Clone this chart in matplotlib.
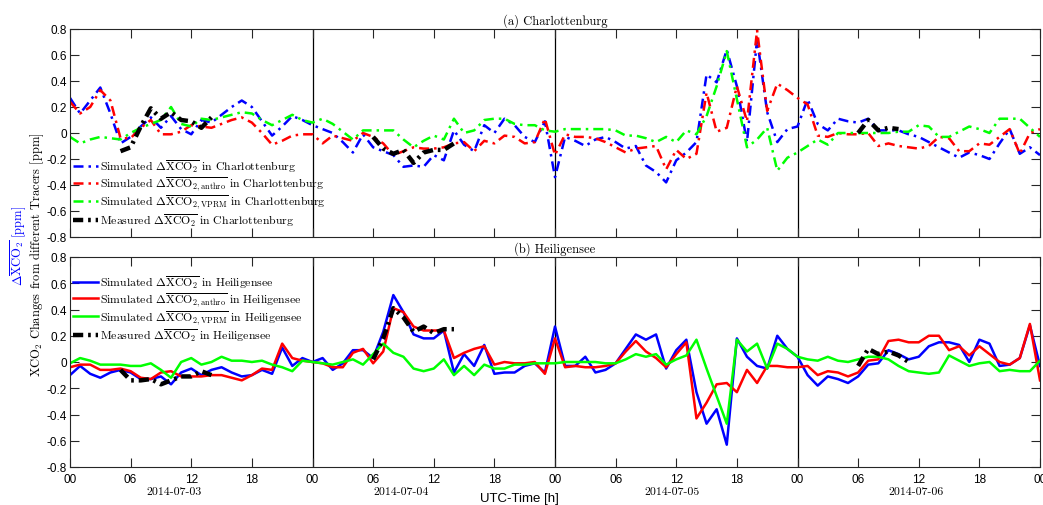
import numpy as np
import matplotlib
matplotlib.use("Agg")
import matplotlib.pyplot as plt

# ---------------- data (hourly, 2014-07-03 00 UTC .. 2014-07-07 00 UTC) ----------------
hours = np.arange(97)

cha_total = [0.27, 0.15, 0.25, 0.35, 0.15, -0.08, -0.03, 0.05, 0.12, 0.04, 0.13, 0.03, -0.01, 0.10, 0.08, 0.14,
             0.20, 0.25, 0.20, 0.09, -0.02, 0.05, 0.13, 0.10, 0.06, 0.03, 0.00, -0.07, -0.15, -0.01, -0.11, -0.14,
             -0.17, -0.26, -0.25, -0.26, -0.17, -0.21, 0.02, -0.09, -0.14, 0.06, 0.00, 0.11, 0.06, -0.03, -0.07, 0.09,
             -0.34, -0.03, -0.06, -0.10, -0.05, -0.03, -0.07, -0.12, -0.10, -0.25, -0.30, -0.38, -0.21, -0.15, -0.07, 0.45,
             0.39, 0.64, 0.36, -0.07, 0.72, 0.16, -0.07, 0.03, 0.05, 0.26, 0.07, 0.02, 0.11, 0.09, 0.08, 0.11,
             0.02, 0.02, 0.02, -0.01, -0.03, -0.07, -0.11, -0.15, -0.19, -0.15, -0.17, -0.20, -0.08, 0.03, -0.16, -0.11,
             -0.17]
cha_anthro = [0.24, 0.15, 0.20, 0.33, 0.25, -0.04, -0.04, 0.04, 0.10, -0.01, -0.01, 0.01, 0.06, 0.05, 0.04, 0.07,
              0.10, 0.12, 0.08, 0.00, -0.09, -0.06, -0.02, -0.01, -0.01, -0.08, -0.02, -0.04, -0.06, 0.00, -0.03, -0.08,
              -0.17, -0.14, -0.11, -0.12, -0.12, -0.11, -0.08, -0.07, -0.14, -0.06, -0.08, -0.02, -0.03, -0.08, -0.07, 0.11,
              -0.17, -0.01, -0.03, -0.03, -0.04, -0.07, -0.11, -0.15, -0.12, -0.11, -0.10, -0.28, -0.13, -0.20, -0.16, 0.31,
              0.01, 0.04, 0.36, 0.09, 0.79, 0.17, 0.38, 0.33, 0.27, 0.22, -0.02, -0.03, 0.00, -0.01, -0.01, 0.00,
              -0.10, -0.08, -0.10, -0.11, -0.12, -0.10, -0.03, -0.04, -0.14, -0.14, -0.08, -0.09, -0.03, 0.03, -0.16, 0.00,
              0.03]
cha_vprm = [-0.03, -0.08, -0.05, -0.03, -0.04, -0.05, 0.00, 0.04, 0.07, 0.10, 0.20, 0.07, 0.05, 0.11, 0.10, 0.12,
            0.14, 0.16, 0.15, 0.10, 0.06, 0.10, 0.14, 0.10, 0.08, 0.11, 0.07, 0.01, -0.05, 0.02, 0.02, 0.02,
            0.02, -0.05, -0.11, -0.06, -0.02, -0.05, 0.11, 0.00, 0.02, 0.10, 0.11, 0.11, 0.07, 0.06, 0.06, 0.02,
            0.01, 0.03, 0.03, 0.03, 0.03, 0.03, 0.02, -0.02, -0.02, -0.04, -0.07, -0.03, -0.07, 0.02, -0.01, 0.13,
            0.36, 0.63, 0.26, -0.11, -0.05, 0.04, -0.29, -0.19, -0.15, -0.10, -0.05, -0.09, 0.00, 0.00, 0.00, 0.00,
            0.00, 0.00, 0.01, 0.01, 0.06, 0.05, -0.03, -0.03, 0.01, 0.05, 0.03, 0.00, 0.11, 0.11, 0.11, 0.04,
            -0.03]
cha_meas_hours = [5, 6, 7, 8, 9, 10, 11, 12, 13, 14, 30, 31, 32, 33, 34, 35, 36, 37, 38, 78, 79, 80, 81, 82]
cha_meas = [-0.14, -0.11, 0.05, 0.19, 0.11, 0.16, 0.10, 0.09, 0.04, 0.12,
            -0.03, -0.12, -0.16, -0.13, -0.23, -0.15, -0.13, -0.13, -0.08,
            0.00, 0.10, 0.02, 0.04, 0.03]

hei_total = [-0.10, -0.03, -0.09, -0.12, -0.08, -0.06, -0.08, -0.13, -0.13, -0.11, -0.17, -0.08, -0.05, -0.10, -0.06, -0.04,
             -0.08, -0.11, -0.10, -0.06, -0.09, 0.11, -0.03, 0.03, 0.00, 0.03, -0.06, -0.01, 0.09, 0.09, 0.03, 0.23,
             0.51, 0.38, 0.21, 0.18, 0.18, 0.24, -0.08, 0.06, -0.03, 0.13, -0.09, -0.08, -0.08, -0.03, -0.01, -0.08,
             0.27, -0.03, -0.03, 0.04, -0.08, -0.06, -0.01, 0.10, 0.21, 0.17, 0.21, -0.05, 0.09, 0.17, -0.23, -0.47,
             -0.36, -0.63, 0.18, 0.04, -0.03, -0.05, 0.20, 0.10, 0.04, -0.10, -0.18, -0.11, -0.13, -0.16, -0.11, -0.02,
             -0.01, 0.09, 0.06, 0.02, 0.04, 0.12, 0.15, 0.15, 0.13, 0.00, 0.17, 0.14, -0.03, -0.02, 0.03, 0.28,
             -0.03]
hei_anthro = [-0.04, -0.02, -0.02, -0.06, -0.06, -0.05, -0.07, -0.12, -0.13, -0.08, -0.07, -0.11, -0.11, -0.11, -0.10, -0.10,
              -0.12, -0.14, -0.10, -0.05, -0.06, 0.14, 0.03, 0.01, 0.00, -0.01, -0.04, -0.04, 0.07, 0.10, -0.01, 0.08,
              0.41, 0.38, 0.27, 0.24, 0.24, 0.24, 0.03, 0.07, 0.10, 0.12, -0.02, 0.00, -0.01, -0.01, 0.00, -0.09,
              0.18, -0.04, -0.03, -0.04, -0.04, -0.03, -0.01, 0.08, 0.16, 0.08, 0.03, -0.04, 0.06, 0.15, -0.43, -0.31,
              -0.17, -0.16, -0.23, -0.06, -0.16, -0.03, -0.03, -0.04, -0.04, -0.03, -0.10, -0.07, -0.08, -0.11, -0.08, 0.01,
              0.02, 0.16, 0.17, 0.15, 0.15, 0.20, 0.20, 0.09, 0.12, 0.05, 0.12, 0.06, 0.00, -0.02, 0.03, 0.29,
              -0.14]
hei_vprm = [-0.01, 0.03, 0.01, -0.02, -0.02, -0.02, -0.03, -0.03, -0.01, -0.06, -0.12, 0.00, 0.03, -0.02, 0.00, 0.04,
            0.01, 0.01, 0.00, 0.01, -0.02, -0.04, -0.07, 0.01, 0.00, -0.01, -0.02, 0.00, 0.02, -0.02, 0.06, 0.14,
            0.07, 0.04, -0.05, -0.07, -0.05, 0.02, -0.10, -0.03, -0.10, -0.02, -0.05, -0.05, -0.02, -0.02, -0.01, -0.01,
            -0.01, 0.00, 0.00, 0.00, 0.00, -0.01, -0.01, 0.02, 0.06, 0.04, 0.06, -0.02, 0.02, 0.05, 0.17, -0.05,
            -0.26, -0.47, 0.17, 0.08, 0.14, -0.05, 0.14, 0.10, 0.04, 0.02, 0.01, 0.04, 0.01, 0.00, 0.02, 0.04,
            0.04, 0.02, -0.03, -0.07, -0.08, -0.09, -0.08, 0.05, 0.01, -0.03, -0.01, 0.00, -0.07, -0.06, -0.07, -0.07,
            0.01]
hei_meas_hours = [5, 6, 7, 8, 9, 10, 11, 12, 13, 14, 30, 31, 32, 33, 34, 35, 36, 37, 38, 78, 79, 80, 81, 82, 83]
hei_meas = [-0.06, -0.14, -0.14, -0.13, -0.17, -0.14, -0.11, -0.11, -0.07, -0.10,
            0.02, 0.18, 0.41, 0.34, 0.23, 0.27, 0.22, 0.25, 0.25,
            -0.03, 0.10, 0.06, 0.08, 0.05, 0.00]

xtick_pos = list(range(0, 97, 6))
xtick_labels = ["00", "06", "12", "18"] * 4 + ["00"]
ytick_pos = [0.8, 0.6, 0.4, 0.2, 0, -0.2, -0.4, -0.6, -0.8]
ytick_labels = ["0.8", "0.6", "0.4", "0.2", "0", "-0.2", "-0.4", "-0.6", "-0.8"]
day_bounds = [24, 48, 72]
dates = ["2014-07-03", "2014-07-04", "2014-07-05", "2014-07-06"]
date_pos = [10.3, 32.8, 59.6, 83.7]

# ---------------- styling ----------------
plt.rcParams["mathtext.fontset"] = "cm"
plt.rcParams["axes.unicode_minus"] = False
SERIF = "cmr10"
SANS = "Liberation Sans"

W, H = 1043, 506
fig = plt.figure(figsize=(W / 100, H / 100), dpi=100)

def fx(px):
    return px / W

def fy(py):
    return 1 - py / H

ax_top = fig.add_axes([fx(70), fy(238), fx(970), 208 / H])
ax_bot = fig.add_axes([fx(70), fy(468), fx(970), 210 / H])

LW = 1.8
MLW = 3.2
dd = (4, 2, 1, 2)
md = (2.3, 1.1, 0.6, 1.1)

def style_axes(ax, show_xlabels):
    ax.set_xlim(0, 96)
    ax.set_ylim(-0.8, 0.8)
    ax.set_xticks(xtick_pos)
    ax.set_yticks(ytick_pos)
    ax.set_yticklabels(ytick_labels, fontfamily=SANS, fontsize=8.5)
    if show_xlabels:
        ax.set_xticklabels(xtick_labels, fontfamily=SANS, fontsize=8.5)
    else:
        ax.set_xticklabels([])
    ax.tick_params(direction="in", length=6.5, width=0.8, color="#262626",
                   top=True, right=True)
    ax.tick_params(axis="x", pad=4.5)
    ax.tick_params(axis="y", pad=2)
    for s in ax.spines.values():
        s.set_color("#262626")
        s.set_linewidth(0.8)
    for b in day_bounds:
        ax.axvline(b, color="black", lw=0.9, zorder=1)

def plot_measured(ax, mh, mv):
    mh = np.array(mh)
    mv = np.array(mv, dtype=float)
    segs = np.split(np.arange(len(mh)), np.where(np.diff(mh) > 1)[0] + 1)
    line = None
    for s in segs:
        line, = ax.plot(mh[s], mv[s], color="black", lw=MLW, dashes=md, zorder=5)
    return line

leg_kw = dict(frameon=False, prop={"family": SERIF, "size": 8.5}, handlelength=2.1,
              handletextpad=0.2, labelspacing=0.02, borderpad=0, borderaxespad=0)

# top panel
l1, = ax_top.plot(hours, cha_total, color="blue", lw=LW, dashes=dd)
l2, = ax_top.plot(hours, cha_anthro, color="red", lw=LW, dashes=dd)
l3, = ax_top.plot(hours, cha_vprm, color="#00ff00", lw=LW, dashes=dd)
l4 = plot_measured(ax_top, cha_meas_hours, cha_meas)
style_axes(ax_top, False)
ax_top.legend([l1, l2, l3, l4],
              [r"Simulated $\Delta\overline{\mathrm{XCO}_2}$ in Charlottenburg",
               r"Simulated $\Delta\overline{\mathrm{XCO}_{2,\mathrm{anthro}}}$ in Charlottenburg",
               r"Simulated $\Delta\overline{\mathrm{XCO}_{2,\mathrm{VPRM}}}$ in Charlottenburg",
               r"Measured $\Delta\overline{\mathrm{XCO}_2}$ in Charlottenburg"],
              loc="lower left", bbox_to_anchor=(0.003, 0.045), **leg_kw)
ax_top.set_title("(a) Charlottenburg", fontfamily=SERIF, fontsize=9, pad=4)

# bottom panel
b1, = ax_bot.plot(hours, hei_total, color="blue", lw=LW)
b2, = ax_bot.plot(hours, hei_anthro, color="red", lw=LW)
b3, = ax_bot.plot(hours, hei_vprm, color="#00ff00", lw=LW)
b4 = plot_measured(ax_bot, hei_meas_hours, hei_meas)
style_axes(ax_bot, True)
ax_bot.legend([b1, b2, b3, b4],
              [r"Simulated $\Delta\overline{\mathrm{XCO}_2}$ in Heiligensee",
               r"Simulated $\Delta\overline{\mathrm{XCO}_{2,\mathrm{anthro}}}$ in Heiligensee",
               r"Simulated $\Delta\overline{\mathrm{XCO}_{2,\mathrm{VPRM}}}$ in Heiligensee",
               r"Measured $\Delta\overline{\mathrm{XCO}_2}$ in Heiligensee"],
              loc="upper left", bbox_to_anchor=(0.003, 0.925), **leg_kw)
ax_bot.set_title("(b) Heiligensee", fontfamily=SERIF, fontsize=9, pad=4)

# date labels under the hour ticks (492 px in figure coordinates)
date_y = -0.8 - (492 - 468) / 210 * 1.6
for d, p in zip(dates, date_pos):
    ax_bot.text(p, date_y, d, ha="center", va="center", fontfamily=SERIF, fontsize=8.5,
                clip_on=False)

fig.text(fx(519), fy(499), "UTC-Time [h]", ha="center", va="center",
         fontfamily=SANS, fontsize=9.5)

fig.text(fx(18), fy(246), r"$\Delta\overline{\mathrm{XCO}_2}$ [ppm]", rotation=90,
         ha="center", va="center", color="blue", fontfamily=SERIF, fontsize=9)
fig.text(fx(37), fy(255), r"XCO$_2$ Changes from different Tracers [ppm]", rotation=90,
         ha="center", va="center", color="black", fontfamily=SERIF, fontsize=9)

fig.savefig("out.png", dpi=100)
